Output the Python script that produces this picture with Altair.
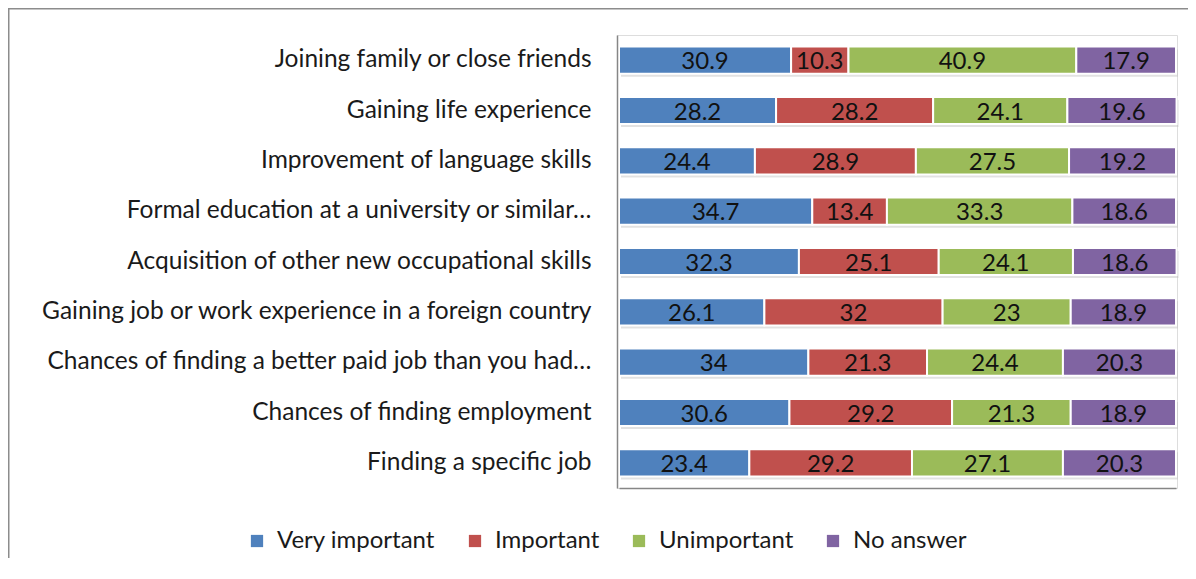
import altair as alt
import pandas as pd

categories = [
    "Joining family or close friends",
    "Gaining life experience",
    "Improvement of language skills",
    "Formal education at a university or similar…",
    "Acquisition of other new occupational skills",
    "Gaining job or work experience in a foreign country",
    "Chances of finding a better paid job than you had…",
    "Chances of finding employment",
    "Finding a specific job",
]
series = ["Very important", "Important", "Unimportant", "No answer"]
very_important = [30.9, 28.2, 24.4, 34.7, 32.3, 26.1, 34, 30.6, 23.4]
important = [10.3, 28.2, 28.9, 13.4, 25.1, 32, 21.3, 29.2, 29.2]
unimportant = [40.9, 24.1, 27.5, 33.3, 24.1, 23, 24.4, 21.3, 27.1]
no_answer = [17.9, 19.6, 19.2, 18.6, 18.6, 18.9, 20.3, 18.9, 20.3]
colors = ["#4F81BD", "#C0504D", "#9BBB59", "#8064A2"]

rows = []
for si, (name, vals) in enumerate(zip(series, [very_important, important, unimportant, no_answer])):
    for ci, cat in enumerate(categories):
        rows.append({"category": cat, "series": name, "order": si, "value": vals[ci]})
df = pd.DataFrame(rows)
totals = pd.DataFrame({"category": categories, "total": [a + b + c + d for a, b, c, d in zip(very_important, important, unimportant, no_answer)]})

FONT = "Lato"

yenc = alt.Y("category:N", sort=categories, title=None,
             scale=alt.Scale(paddingInner=0.46, paddingOuter=0.23),
             axis=alt.Axis(labelFont=FONT, labelFontSize=24.5, labelColor="#1a1a1a",
                           labelPadding=26, labelLimit=700, ticks=False, zindex=1,
                           domainColor="#868686", domainWidth=1.5, grid=False))
xscale = alt.Scale(domain=[0, 100], nice=False, range=[2, 559])
xaxis = alt.Axis(labels=False, ticks=False, grid=False, title=None,
                 domainColor="#868686", domainWidth=1.5)

shadow = alt.Chart(totals).mark_bar(color="#bfbfbf", opacity=0.45, yOffset=3, xOffset=2).encode(
    y=yenc,
    x=alt.X("total:Q", scale=xscale, axis=xaxis),
)

bars = alt.Chart(df).transform_stack(
    stack="value", groupby=["category"], as_=["x0", "x1"],
    sort=[alt.SortField("order", order="ascending")]
).mark_bar(stroke="white", strokeWidth=2).encode(
    y=yenc,
    x=alt.X("x0:Q", scale=xscale, axis=xaxis),
    x2="x1:Q",
    color=alt.Color("series:N", sort=series,
                    scale=alt.Scale(domain=series, range=colors),
                    legend=alt.Legend(title=None, orient="none", direction="horizontal",
                                      legendX=-372, legendY=494, symbolType="square",
                                      symbolSize=150, symbolStrokeWidth=0,
                                      labelFont=FONT, labelFontSize=24, labelColor="#1a1a1a",
                                      labelLimit=400, columnPadding=27, labelOffset=8)),
)

labels = alt.Chart(df).transform_stack(
    stack="value", groupby=["category"], as_=["x0", "x1"],
    sort=[alt.SortField("order", order="ascending")]
).transform_calculate(
    mid="(datum.x0 + datum.x1) / 2"
).mark_text(font=FONT, fontSize=24, color="#111111", baseline="middle", dy=2).encode(
    y=yenc,
    x=alt.X("mid:Q", scale=xscale, axis=xaxis),
    text=alt.Text("value:Q"),
)

frame = alt.Chart(pd.DataFrame({"k": [0]})).mark_rect(
    fill=None, stroke="#8c8c8c", strokeWidth=3
).encode(
    x=alt.value(-609), x2=alt.value(700), y=alt.value(-27), y2=alt.value(700)
)

chart = alt.layer(frame, shadow, bars, labels).properties(
    width=560, height=453,
    padding={"left": 609, "top": 27, "right": 11, "bottom": 70},
    autosize=alt.AutoSizeParams(type="none"),
).configure_view(stroke=None).configure(background="white")

chart.save("out.html", embed_options={"renderer": "svg", "actions": False})
